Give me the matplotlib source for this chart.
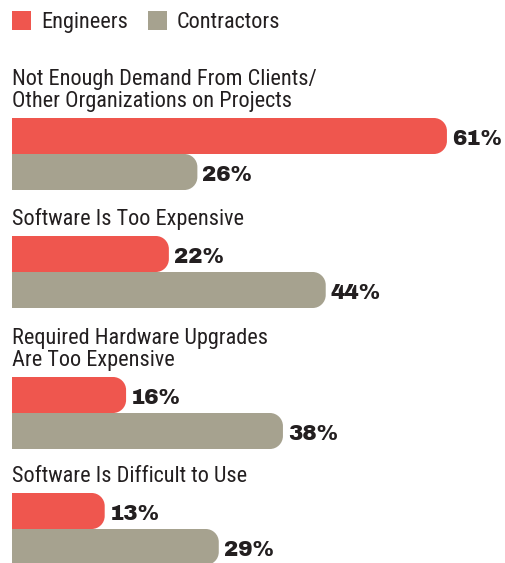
import matplotlib
matplotlib.use("Agg")
import matplotlib.pyplot as plt
from matplotlib.path import Path
from matplotlib.patches import PathPatch, Rectangle

categories = [
    ["Not Enough Demand From Clients/", "Other Organizations on Projects"],
    ["Software Is Too Expensive"],
    ["Required Hardware Upgrades", "Are Too Expensive"],
    ["Software Is Difficult to Use"],
]
engineers = [61, 22, 16, 13]
contractors = [26, 44, 38, 29]
series_names = ["Engineers", "Contractors"]

RED = "#EF564E"
GRAY = "#A6A28F"
TXT = "#231F20"
LABEL_FONT = ["Roboto Condensed", "DejaVu Sans"]
VALUE_FONT = ["Archivo Black", "DejaVu Sans"]

W, H = 505, 563
fig = plt.figure(figsize=(W / 100, H / 100), dpi=100)
ax = fig.add_axes([0, 0, 1, 1])
s = 7.13          # pixels per percent
left = 12
ax.set_xlim(-left / s, (W - left) / s)
ax.set_ylim(H, 0)
ax.axis("off")

bar_h = 36
red_tops = [118, 236, 377, 493]
r = 13


def rounded_bar(top, value, color):
    rx, ry = r / s, r
    k = 0.5523
    yt, yb = top, top + bar_h
    v = value
    verts = [
        (0, yt), (v - rx, yt),
        (v - rx + k * rx, yt), (v, yt + ry - k * ry), (v, yt + ry),
        (v, yb - ry),
        (v, yb - ry + k * ry), (v - rx + k * rx, yb), (v - rx, yb),
        (0, yb), (0, yt),
    ]
    codes = [Path.MOVETO, Path.LINETO,
             Path.CURVE4, Path.CURVE4, Path.CURVE4,
             Path.LINETO,
             Path.CURVE4, Path.CURVE4, Path.CURVE4,
             Path.LINETO, Path.CLOSEPOLY]
    ax.add_patch(PathPatch(Path(verts, codes), facecolor=color,
                           edgecolor="none", lw=0))


for i, (lines, e, c) in enumerate(zip(categories, engineers, contractors)):
    top = red_tops[i]
    for j, line in enumerate(reversed(lines)):
        ax.text(0, top - 11 - 22 * j, line, family=LABEL_FONT, fontsize=16,
                color=TXT, va="baseline", ha="left")
    rounded_bar(top, e, RED)
    rounded_bar(top + bar_h, c, GRAY)
    ax.text(e + 5 / s, top + bar_h / 2 + 9, f"{e}%", family=VALUE_FONT,
            fontsize=15.5, color=TXT, va="baseline", ha="left")
    ax.text(c + 5 / s, top + bar_h * 1.5 + 9, f"{c}%", family=VALUE_FONT,
            fontsize=15.5, color=TXT, va="baseline", ha="left")

# legend
leg_x = [12, 148]
for name, color, lx in zip(series_names, [RED, GRAY], leg_x):
    ax.add_patch(Rectangle(((lx - left) / s, 11), 19 / s, 19,
                           facecolor=color, edgecolor="none"))
    ax.text((lx - left + 29) / s, 28, name, family=LABEL_FONT, fontsize=16,
            color=TXT, va="baseline", ha="left")

fig.savefig("out.png", dpi=100)
